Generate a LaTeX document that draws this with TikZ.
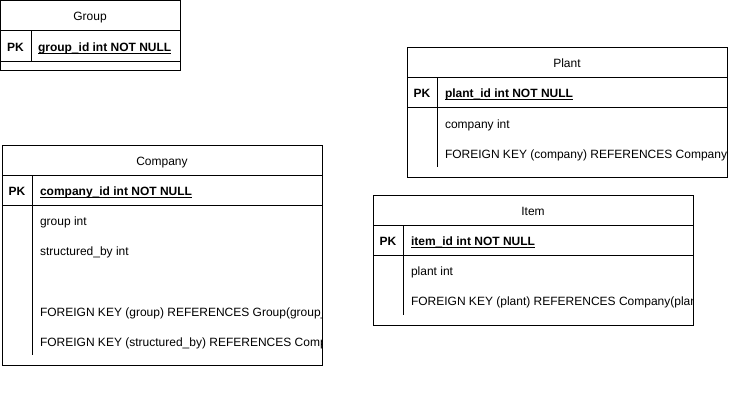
\documentclass[tikz,border=0pt]{standalone}
\usepackage{fontspec}
\setmainfont{Liberation Sans}
\begin{document}
\begin{tikzpicture}[x=1pt,y=-1pt,
  every node/.style={inner sep=0pt,outer sep=0pt},
  txt/.style={font=\fontsize{12}{14}\selectfont},
  lbl/.style={txt,anchor=base west},
  pk/.style={txt,font=\fontsize{12}{14}\selectfont\bfseries,anchor=base},
  pkf/.style={txt,font=\fontsize{12}{14}\selectfont\bfseries,anchor=base west},
  ttl/.style={txt,anchor=base},
  frame/.style={draw=black,line width=1pt},
  uline/.style={draw=black,line width=0.9pt}]
\useasboundingbox (0,0) rectangle (729,415);
\fill[white] (0,0) rectangle (729,415);

% ---------- Group ----------
\draw[frame] (0.5,0.5) rectangle (180,70);
\draw[frame] (0.5,30) -- (180,30);
\draw[frame] (0.5,61) -- (180,61);
\draw[frame] (31,30) -- (31,61);
\node[ttl] (gT) at (90,20.5) {Group};
\node[pk] (gPK) at (15.5,51.3) {PK};
\node[pkf] (gId) at (38,51.3) {group\_id int NOT NULL};
\draw[uline] ([yshift=-2]gId.base west) -- ([yshift=-2]gId.base east);

% ---------- Company ----------
\draw[frame] (2,145) rectangle (322,365);
\draw[frame] (2,175) -- (322,175);
\draw[frame] (2,205) -- (322,205);
\draw[frame] (32,175) -- (32,205);
\draw[frame] (32,205) -- (32,355);
\node[ttl] (cT) at (162,165.3) {Company};
\node[pk] (cPK) at (17,195.5) {PK};
\node[pkf] (cId) at (40,195.5) {company\_id int NOT NULL};
\draw[uline] ([yshift=-2]cId.base west) -- ([yshift=-2]cId.base east);
\begin{scope}
\clip (32,205) rectangle (321.5,365);
\node[lbl] (c1) at (40,225.3) {group int};
\node[lbl] (c2) at (40,255.3) {structured\_by int};
\node[lbl] (c4) at (40,316.3) {FOREIGN KEY (group) REFERENCES Group(group\_id)};
\node[lbl] (c5) at (40,346.3) {FOREIGN KEY (structured\_by) REFERENCES Company(company\_id)};
\end{scope}

% ---------- Plant ----------
\draw[frame] (407,47) rectangle (727,177);
\draw[frame] (407,77) -- (727,77);
\draw[frame] (407,107) -- (727,107);
\draw[frame] (437,77) -- (437,107);
\draw[frame] (437,107) -- (437,167);
\node[ttl] (pT) at (567,67.3) {Plant};
\node[pk] (pPK) at (422,97.5) {PK};
\node[pkf] (pId) at (445,97.5) {plant\_id int NOT NULL};
\draw[uline] ([yshift=-2]pId.base west) -- ([yshift=-2]pId.base east);
\begin{scope}
\clip (437,107) rectangle (726.5,177);
\node[lbl] (p1) at (445,128.3) {company int};
\node[lbl] (p2) at (445,158.3) {FOREIGN KEY (company) REFERENCES Company(company\_id)};
\end{scope}

% ---------- Item ----------
\draw[frame] (373,195) rectangle (693,325);
\draw[frame] (373,225) -- (693,225);
\draw[frame] (373,255) -- (693,255);
\draw[frame] (403,225) -- (403,255);
\draw[frame] (403,255) -- (403,315);
\node[ttl] (iT) at (533,215.3) {Item};
\node[pk] (iPK) at (388,245.5) {PK};
\node[pkf] (iId) at (411,245.5) {item\_id int NOT NULL};
\draw[uline] ([yshift=-2]iId.base west) -- ([yshift=-2]iId.base east);
\begin{scope}
\clip (403,255) rectangle (692.5,325);
\node[lbl] (i1) at (411,275.3) {plant int};
\node[lbl] (i2) at (411,305.3) {FOREIGN KEY (plant) REFERENCES Company(plant\_id)};
\end{scope}
\end{tikzpicture}
\end{document}
